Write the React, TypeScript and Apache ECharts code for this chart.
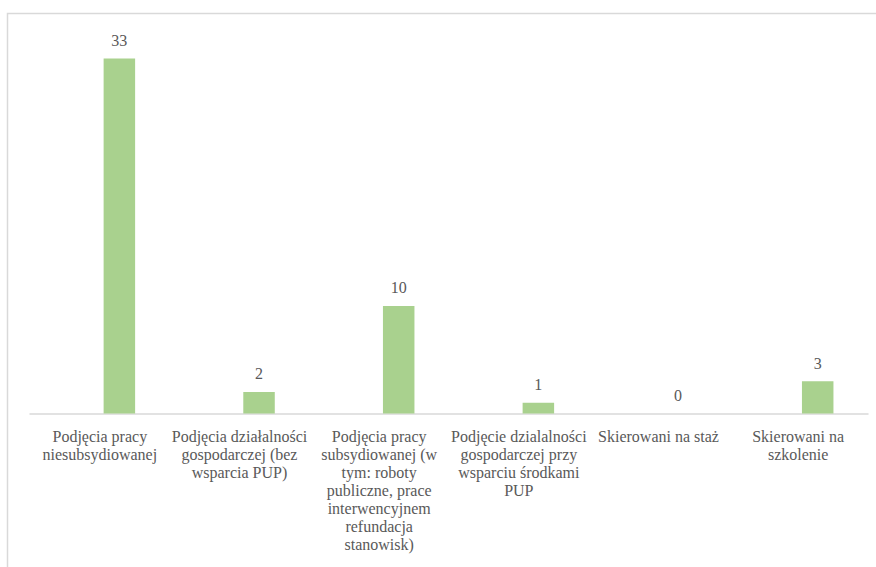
import React, { useEffect, useRef } from "react";
import * as echarts from "echarts";

const categories: string[] = [
  "Podjęcia pracy\nniesubsydiowanej",
  "Podjęcia działalności\ngospodarczej (bez\nwsparcia PUP)",
  "Podjęcia pracy\nsubsydiowanej (w\ntym: roboty\npubliczne, prace\ninterwencyjnem\nrefundacja\nstanowisk)",
  "Podjęcie dzialalności\ngospodarczej przy\nwsparciu środkami\nPUP",
  "Skierowani na staż",
  "Skierowani na\nszkolenie",
];
const values: number[] = [33, 2, 10, 1, 0, 3];
const emptySeries: (number | null)[] = [null, null, null, null, null, null];

const FONT = "Liberation Serif";
const TEXT = "#595959";

export default function App() {
  const ref = useRef<HTMLDivElement>(null);
  useEffect(() => {
    if (!ref.current) return;
    const chart = echarts.init(ref.current, null, { renderer: "svg" });
    chart.setOption({
      animation: false,
      backgroundColor: "#ffffff",
      textStyle: { fontFamily: FONT },
      grid: { left: 30, right: 8, top: 37, bottom: 153.5, containLabel: false },
      xAxis: {
        type: "category",
        data: categories,
        axisLine: { show: true, lineStyle: { color: "#d9d9d9", width: 1.5 } },
        axisTick: { show: false },
        axisLabel: {
          interval: 0,
          margin: 14,
          color: TEXT,
          fontFamily: FONT,
          fontSize: 16,
          lineHeight: 18,
          align: "center",
        },
      },
      yAxis: {
        type: "value",
        min: 0,
        max: 35,
        interval: 5,
        show: false,
        splitLine: { show: false },
      },
      series: [
        {
          type: "bar",
          name: "",
          data: emptySeries,
          barWidth: 31.5,
          barGap: "24%",
          itemStyle: { color: "transparent" },
        },
        {
          type: "bar",
          name: "Liczba",
          data: values,
          barWidth: 31.5,
          barGap: "24%",
          itemStyle: { color: "#A9D18E" },
          label: {
            show: true,
            position: "top",
            distance: 10,
            color: TEXT,
            fontFamily: FONT,
            fontSize: 16,
          },
        },
      ],
      graphic: [
        {
          type: "rect",
          shape: { x: 7.5, y: 13.5, width: 900, height: 600 },
          style: { fill: "none", stroke: "#d9d9d9", lineWidth: 1.5 },
          silent: true,
        },
      ],
    });
    return () => chart.dispose();
  }, []);
  return (
    <>
      <style>{`#chart-box svg text { font-family: "Liberation Serif", "Times New Roman", serif !important; }`}</style>
      <div
        id="chart-box"
        ref={ref}
        style={{ position: "absolute", left: 0, top: 0, width: 876, height: 567 }}
      />
    </>
  );
}
